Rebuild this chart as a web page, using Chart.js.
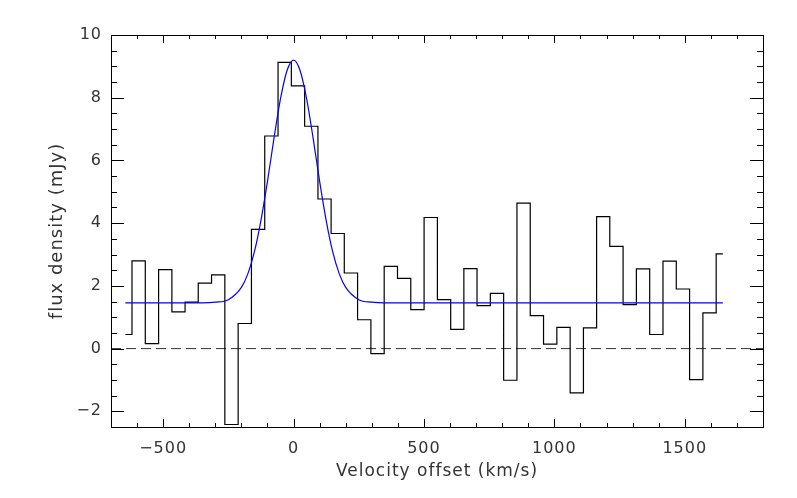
<!DOCTYPE html>
<html>
<head>
<meta charset="utf-8">
<script src="https://cdn.jsdelivr.net/npm/chart.js@4/dist/chart.umd.min.js"></script>
<style>
  body { margin: 0; background: #fff; }
  #wrap { width: 797px; height: 498px; }
</style>
</head>
<body>
<div id="wrap"><canvas id="spec" width="797" height="498"></canvas></div>
<script>
// binned spectrum (channel centres, km/s) and flux (mJy)
const velocity = [-645, -594, -543, -492, -441, -391, -340, -289, -238, -187,
    -136, -85, -34, 17, 68, 119, 169, 220, 271, 322,
    373, 424, 475, 526, 577, 628, 678, 729, 780, 831,
    882, 933, 984, 1035, 1086, 1137, 1187, 1238, 1289, 1340,
    1391, 1442, 1493, 1544, 1595, 1646];
const flux = [0.45, 2.80, 0.16, 2.52, 1.17, 1.48, 2.09, 2.35, -2.42, 0.80,
    3.80, 6.78, 9.13, 8.38, 7.09, 4.77, 3.67, 2.41, 0.92, -0.16,
    2.62, 2.24, 1.24, 4.18, 1.56, 0.61, 2.55, 1.37, 1.76, -1.01,
    4.64, 1.05, 0.14, 0.68, -1.41, 0.66, 4.21, 3.26, 1.40, 2.54,
    0.45, 2.79, 1.90, -0.99, 1.14, 3.02];

// gaussian fit
const fitVelocity = [-645, -350, -300, -250, -200, -175, -150, -125, -100, -75, -50, -25, 0,
    25, 50, 75, 100, 125, 150, 175, 200, 250, 300, 350, 1646];
const fitFlux = [1.46, 1.46, 1.48, 1.56, 1.95, 2.39, 3.09, 4.09, 5.33, 6.71, 7.97, 8.87, 9.20,
    8.87, 7.97, 6.71, 5.33, 4.09, 3.09, 2.39, 1.95, 1.56, 1.48, 1.46, 1.46];

const zeroLine = [-700, 1800];

const xTicks = [-500, 0, 500, 1000, 1500];
const yTicks = [-2, 0, 2, 4, 6, 8, 10];
const xRange = [-700, 1800];
const yRange = [-2.5, 10];

const toPoints = (xs, ys) => xs.map((x, i) => ({ x: x, y: ys[i] }));
const fmt = v => v < 0 ? '\u2212' + Math.abs(v) : String(v);

// IDL-style box with inward ticks on all four sides
const frameTicks = {
    id: 'frameTicks',
    beforeDraw(chart) {
        chart.ctx.letterSpacing = '1px';
    },
    afterDatasetsDraw(chart) {
        const ctx = chart.ctx;
        const a = chart.chartArea;
        const xs = chart.scales.x, ys = chart.scales.y;
        ctx.save();
        ctx.strokeStyle = '#000';
        ctx.lineWidth = 1;
        ctx.beginPath();
        for (let v = xRange[0]; v <= xRange[1] + 1e-6; v += 100) {
            const px = Math.round(xs.getPixelForValue(v)) + 0.5;
            const len = v % 500 === 0 ? 8 : 4;
            ctx.moveTo(px, a.bottom); ctx.lineTo(px, a.bottom - len);
            ctx.moveTo(px, a.top); ctx.lineTo(px, a.top + len);
        }
        for (let v = yRange[0]; v <= yRange[1] + 1e-6; v += 0.5) {
            const py = Math.round(ys.getPixelForValue(v)) + 0.5;
            const len = Math.abs(v % 2) < 1e-6 ? 13 : 6;
            ctx.moveTo(a.left, py); ctx.lineTo(a.left + len, py);
            ctx.moveTo(a.right, py); ctx.lineTo(a.right - len, py);
        }
        ctx.stroke();
        ctx.strokeRect(Math.round(a.left) + 0.5, Math.round(a.top) + 0.5,
            Math.round(a.right - a.left), Math.round(a.bottom - a.top));
        ctx.restore();
    }
};

const ctx = document.getElementById('spec').getContext('2d');
const chart = new Chart(ctx, {
    type: 'line',
    data: {
        datasets: [{
            label: 'fit',
            data: toPoints(fitVelocity, fitFlux),
            borderColor: '#0000ff',
            borderWidth: 1.2,
            pointRadius: 0,
            cubicInterpolationMode: 'monotone',
            order: 1
        }, {
            label: 'spectrum',
            data: toPoints(velocity, flux),
            borderColor: '#000',
            borderWidth: 1.2,
            pointRadius: 0,
            stepped: 'middle',
            order: 2
        }, {
            label: 'zero',
            data: toPoints(zeroLine, [0, 0]),
            borderColor: '#333',
            borderWidth: 1,
            borderDash: [10, 5],
            pointRadius: 0,
            order: 3
        }]
    },
    options: {
        responsive: false,
        animation: false,
        layout: { padding: { top: 35, right: 34, left: 0, bottom: 0 } },
        plugins: {
            legend: { display: false },
            tooltip: { enabled: false }
        },
        scales: {
            x: {
                type: 'linear',
                min: xRange[0],
                max: xRange[1],
                grid: { display: false, drawTicks: false },
                border: { display: false },
                afterBuildTicks: s => { s.ticks = xTicks.map(v => ({ value: v })); },
                afterFit: s => { s.height = 71; },
                ticks: {
                    padding: 12,
                    color: '#333',
                    maxRotation: 0,
                    font: { family: 'DejaVu Sans', size: 16 },
                    callback: v => fmt(v)
                },
                title: {
                    display: true,
                    text: 'Velocity offset (km/s)',
                    color: '#333',
                    font: { family: 'DejaVu Sans', size: 17 },
                    padding: { top: 0, bottom: 16 }
                }
            },
            y: {
                type: 'linear',
                min: yRange[0],
                max: yRange[1],
                grid: { display: false, drawTicks: false },
                border: { display: false },
                afterBuildTicks: s => { s.ticks = yTicks.map(v => ({ value: v })); },
                afterFit: s => { s.width = 111; },
                ticks: {
                    padding: 9,
                    color: '#333',
                    font: { family: 'DejaVu Sans', size: 16 },
                    callback: v => fmt(v)
                },
                title: {
                    display: true,
                    text: 'flux density (mJy)',
                    color: '#333',
                    font: { family: 'DejaVu Sans', size: 18 },
                    padding: { top: 47, bottom: 0 }
                }
            }
        }
    },
    plugins: [frameTicks]
});
</script>
</body>
</html>
